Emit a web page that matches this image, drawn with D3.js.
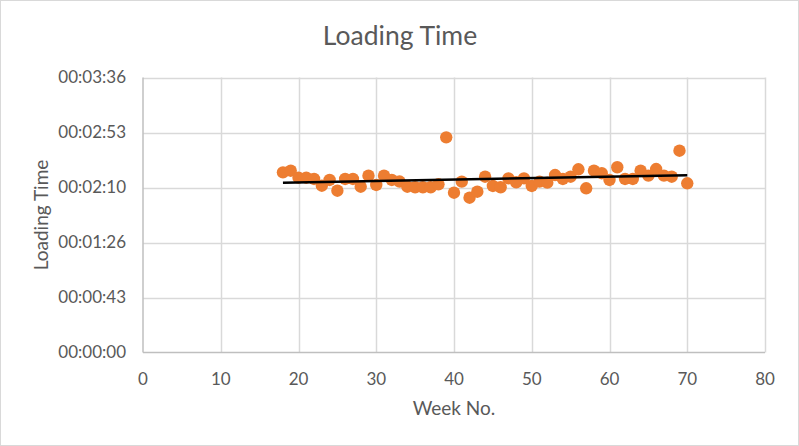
<!DOCTYPE html>
<html><head><meta charset="utf-8">
<script src="https://cdn.jsdelivr.net/npm/d3@7"></script>
<style>body{margin:0;background:#fff}svg{display:block}text{font-family:Lato,"Open Sans",sans-serif}</style>
</head><body><svg id="c" width="799" height="446"></svg>
<script>
const weeks = [18,19,20,21,22,23,24,25,26,27,28,29,30,31,32,33,34,35,36,37,38,39,40,41,42,43,44,45,46,47,48,49,50,51,52,53,54,55,56,57,58,59,60,61,62,63,64,65,66,67,68,69,70];
const loadSeconds = [141.5,142.8,137.3,137.3,136.3,131.0,135.5,127.1,136.3,136.3,130.2,138.9,131.6,138.9,135.5,134.3,130.2,129.8,129.8,129.8,132.1,169.0,125.5,134.2,121.6,126.3,138.1,130.8,129.8,136.8,133.7,136.8,130.8,134.2,133.4,139.4,136.3,138.1,143.9,129.0,142.8,140.8,135.5,145.5,136.3,136.3,142.8,138.9,144.1,138.9,138.1,158.5,132.9];
const xTicks = [0,10,20,30,40,50,60,70,80];
const yTicks = [0,43.2,86.4,129.6,172.8,216];
const title = "Loading Time", xTitle = "Week No.", yTitle = "Loading Time";

const svg = d3.select("#c");
const M = {l:143, r:765, t:77.5, b:352.5};
const x = d3.scaleLinear().domain([0,80]).range([M.l,M.r]);
const y = d3.scaleLinear().domain([0,216]).range([M.b,M.t]);
const fmt = s => { s = Math.round(s); const h=Math.floor(s/3600), m=Math.floor((s%3600)/60), sec=s%60; return [h,m,sec].map(v=>String(v).padStart(2,"0")).join(":"); };

svg.append("rect").attr("x",0.5).attr("y",0.5).attr("width",798).attr("height",445).attr("fill","#fff").attr("stroke","#d9d9d9");

svg.append("g").selectAll("line").data(yTicks.slice(1)).join("line")
  .attr("x1",M.l).attr("x2",M.r).attr("y1",d=>Math.round(y(d))+0.5).attr("y2",d=>Math.round(y(d))+0.5)
  .attr("stroke","#d9d9d9").attr("stroke-width",1.5);
svg.append("g").selectAll("line").data(xTicks.slice(1)).join("line")
  .attr("y1",M.t).attr("y2",M.b).attr("x1",d=>Math.round(x(d))+0.5).attr("x2",d=>Math.round(x(d))+0.5)
  .attr("stroke","#d9d9d9").attr("stroke-width",1.5);

svg.append("line").attr("x1",M.l).attr("x2",M.r).attr("y1",M.b).attr("y2",M.b).attr("stroke","#bfbfbf").attr("stroke-width",1.5);
svg.append("line").attr("x1",M.l).attr("x2",M.l).attr("y1",M.t).attr("y2",M.b).attr("stroke","#bfbfbf").attr("stroke-width",1.5);

svg.append("g").selectAll("text").data(xTicks).join("text")
  .attr("x",d=>x(d)).attr("y",385).attr("text-anchor","middle").attr("fill","#595959").attr("font-size",17).text(d=>d);
svg.append("g").selectAll("text").data(yTicks).join("text")
  .attr("x",126).attr("y",d=>y(d)).attr("dy","0.35em").attr("text-anchor","end").attr("fill","#595959").attr("font-size",17).text(d=>fmt(d));

svg.append("text").attr("x",400).attr("y",45).attr("text-anchor","middle").attr("fill","#595959").attr("font-size",26.5).text(title);
svg.append("text").attr("x",(M.l+M.r)/2).attr("y",415).attr("text-anchor","middle").attr("fill","#595959").attr("font-size",19).text(xTitle);
svg.append("text").attr("transform",`translate(48,${(M.t+M.b)/2}) rotate(-90)`).attr("text-anchor","middle").attr("fill","#595959").attr("font-size",19).text(yTitle);

const data = weeks.map((w,i)=>({w, s:loadSeconds[i]}));
svg.append("g").selectAll("circle").data(data).join("circle")
  .attr("cx",d=>x(d.w)).attr("cy",d=>y(d.s)).attr("r",6.2).attr("fill","#ED7D31");

const mx=d3.mean(data,d=>d.w), my=d3.mean(data,d=>d.s);
const slope=d3.sum(data,d=>(d.w-mx)*(d.s-my))/d3.sum(data,d=>(d.w-mx)**2);
const icpt=my-slope*mx;
const ext=d3.extent(weeks);
svg.append("line").attr("x1",x(ext[0])).attr("x2",x(ext[1])).attr("y1",y(icpt+slope*ext[0])).attr("y2",y(icpt+slope*ext[1]))
  .attr("stroke","#000").attr("stroke-width",2.5);
</script></body></html>
